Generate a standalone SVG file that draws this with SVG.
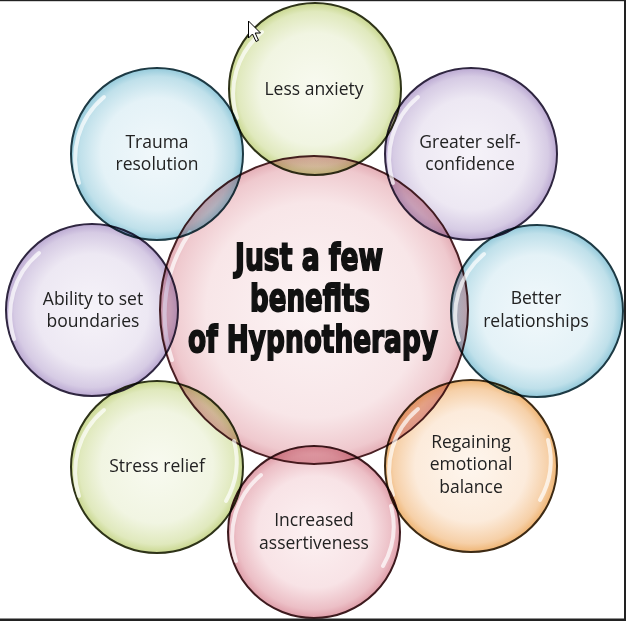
<svg xmlns="http://www.w3.org/2000/svg" width="626" height="621" viewBox="0 0 626 621">
<defs>
<radialGradient id="gPink" cx="50%" cy="50%" r="50%">
<stop offset="0" stop-color="#fcf3f4"/><stop offset="0.7" stop-color="#f8e6e8"/><stop offset="0.93" stop-color="#efc9ce"/><stop offset="1" stop-color="#e4aeb6"/>
</radialGradient>
<radialGradient id="gGreen" cx="50%" cy="50%" r="50%">
<stop offset="0" stop-color="#f8faf0"/><stop offset="0.65" stop-color="#f1f5e2"/><stop offset="0.9" stop-color="#e0e9bd"/><stop offset="1" stop-color="#c9d78f"/>
</radialGradient>
<radialGradient id="gBlue" cx="50%" cy="50%" r="50%">
<stop offset="0" stop-color="#f1f8fb"/><stop offset="0.65" stop-color="#e4f2f7"/><stop offset="0.9" stop-color="#bfe0ea"/><stop offset="1" stop-color="#93c9da"/>
</radialGradient>
<radialGradient id="gPurple" cx="50%" cy="50%" r="50%">
<stop offset="0" stop-color="#f6f3f9"/><stop offset="0.65" stop-color="#ede8f3"/><stop offset="0.9" stop-color="#d6cbe4"/><stop offset="1" stop-color="#bba9d2"/>
</radialGradient>
<radialGradient id="gOrange" cx="50%" cy="50%" r="50%">
<stop offset="0" stop-color="#fef6ee"/><stop offset="0.65" stop-color="#fcebdb"/><stop offset="0.9" stop-color="#f6d0a8"/><stop offset="1" stop-color="#efb574"/>
</radialGradient>
<radialGradient id="gRose" cx="50%" cy="50%" r="50%">
<stop offset="0" stop-color="#fcf1f2"/><stop offset="0.65" stop-color="#f8e3e6"/><stop offset="0.9" stop-color="#ecbfc6"/><stop offset="1" stop-color="#df9ea9"/>
</radialGradient>
</defs>
<style>
.bub{mix-blend-mode:multiply;stroke-width:2}
.hl{fill:none;stroke:#ffffff;stroke-width:4;stroke-linecap:round;opacity:0.7}
.lbl{font-family:"Open Sans","Noto Sans","Liberation Sans",sans-serif;font-size:17.5px;fill:#222222;text-anchor:middle}
.title{font-family:"DejaVu Sans","Liberation Sans",sans-serif;font-weight:bold;font-size:37px;fill:#111111;stroke:#111111;stroke-width:1.9;text-anchor:middle}
</style>
<rect x="0" y="0" width="626" height="621" fill="#ffffff"/>

<g id="center">
<circle cx="314" cy="310" r="154" fill="url(#gPink)" stroke="#4a2024" stroke-width="2"/>
<path class="hl" d="M 172 360 A 146 146 0 0 1 190 232"/>
<g transform="translate(309,270) scale(0.72,1)"><text class="title" x="0" y="0" textLength="205.6" lengthAdjust="spacingAndGlyphs">Just a few</text></g>
<g transform="translate(310,311) scale(0.72,1)"><text class="title" x="0" y="0" textLength="166.7" lengthAdjust="spacingAndGlyphs">benefits</text></g>
<g transform="translate(313,352) scale(0.72,1)"><text class="title" x="0" y="0" textLength="347.2" lengthAdjust="spacingAndGlyphs">of Hypnotherapy</text></g>
</g>

<g id="less-anxiety">
<circle class="bub" cx="315" cy="89" r="86" fill="url(#gGreen)" stroke="#2e3318"/>
<path class="hl" d="M 237 118 A 80 80 0 0 1 262 32"/>
<text class="lbl" x="314" y="95">Less anxiety</text>
</g>

<g id="greater-self-confidence">
<circle class="bub" cx="471" cy="154" r="86" fill="url(#gPurple)" stroke="#2f2640"/>
<path class="hl" d="M 393 183 A 80 80 0 0 1 418 97"/>
<text class="lbl" x="470" y="148">Greater self-</text>
<text class="lbl" x="470" y="170">confidence</text>
</g>

<g id="better-relationships">
<circle class="bub" cx="537" cy="311" r="86" fill="url(#gBlue)" stroke="#1d3a44"/>
<path class="hl" d="M 459 340 A 80 80 0 0 1 484 254"/>
<text class="lbl" x="536" y="304">Better</text>
<text class="lbl" x="536" y="327">relationships</text>
</g>

<g id="regaining-emotional-balance">
<circle class="bub" cx="471" cy="466" r="86" fill="url(#gOrange)" stroke="#3d2a14"/>
<path class="hl" d="M 393 495 A 80 80 0 0 1 418 409"/>
<path class="hl" d="M 548 440 A 80 80 0 0 1 540 500"/>
<text class="lbl" x="471" y="448">Regaining</text>
<text class="lbl" x="471" y="470">emotional</text>
<text class="lbl" x="471" y="493">balance</text>
</g>

<g id="increased-assertiveness">
<circle class="bub" cx="314" cy="532" r="86" fill="url(#gRose)" stroke="#3d1a1e"/>
<path class="hl" d="M 236 561 A 80 80 0 0 1 261 475"/>
<path class="hl" d="M 391 506 A 80 80 0 0 1 383 566"/>
<text class="lbl" x="314" y="526">Increased</text>
<text class="lbl" x="314" y="549">assertiveness</text>
</g>

<g id="stress-relief">
<circle class="bub" cx="157" cy="467" r="86" fill="url(#gGreen)" stroke="#2e3318"/>
<path class="hl" d="M 79 496 A 80 80 0 0 1 104 410"/>
<path class="hl" d="M 234 441 A 80 80 0 0 1 226 501"/>
<text class="lbl" x="157" y="472">Stress relief</text>
</g>

<g id="ability-to-set-boundaries">
<circle class="bub" cx="92" cy="310" r="86" fill="url(#gPurple)" stroke="#2f2640"/>
<path class="hl" d="M 14 339 A 80 80 0 0 1 39 253"/>
<text class="lbl" x="93" y="305">Ability to set</text>
<text class="lbl" x="93" y="327">boundaries</text>
</g>

<g id="trauma-resolution">
<circle class="bub" cx="157" cy="154" r="86" fill="url(#gBlue)" stroke="#1d3a44"/>
<path class="hl" d="M 79 183 A 80 80 0 0 1 104 97"/>
<text class="lbl" x="157" y="148">Trauma</text>
<text class="lbl" x="157" y="170">resolution</text>
</g>

<g id="connectors"></g>

<polygon points="248.5,21 248.5,38 252.5,34 256,41.5 258.5,40.3 255.2,33 260.5,33" fill="#ffffff" stroke="#000000" stroke-width="1" stroke-linejoin="round"/>

<rect x="0" y="0" width="626" height="1.2" fill="#222222"/>
<rect x="624" y="0" width="2" height="621" fill="#222222"/>
<rect x="0" y="618.5" width="626" height="2.5" fill="#222222"/>
</svg>
